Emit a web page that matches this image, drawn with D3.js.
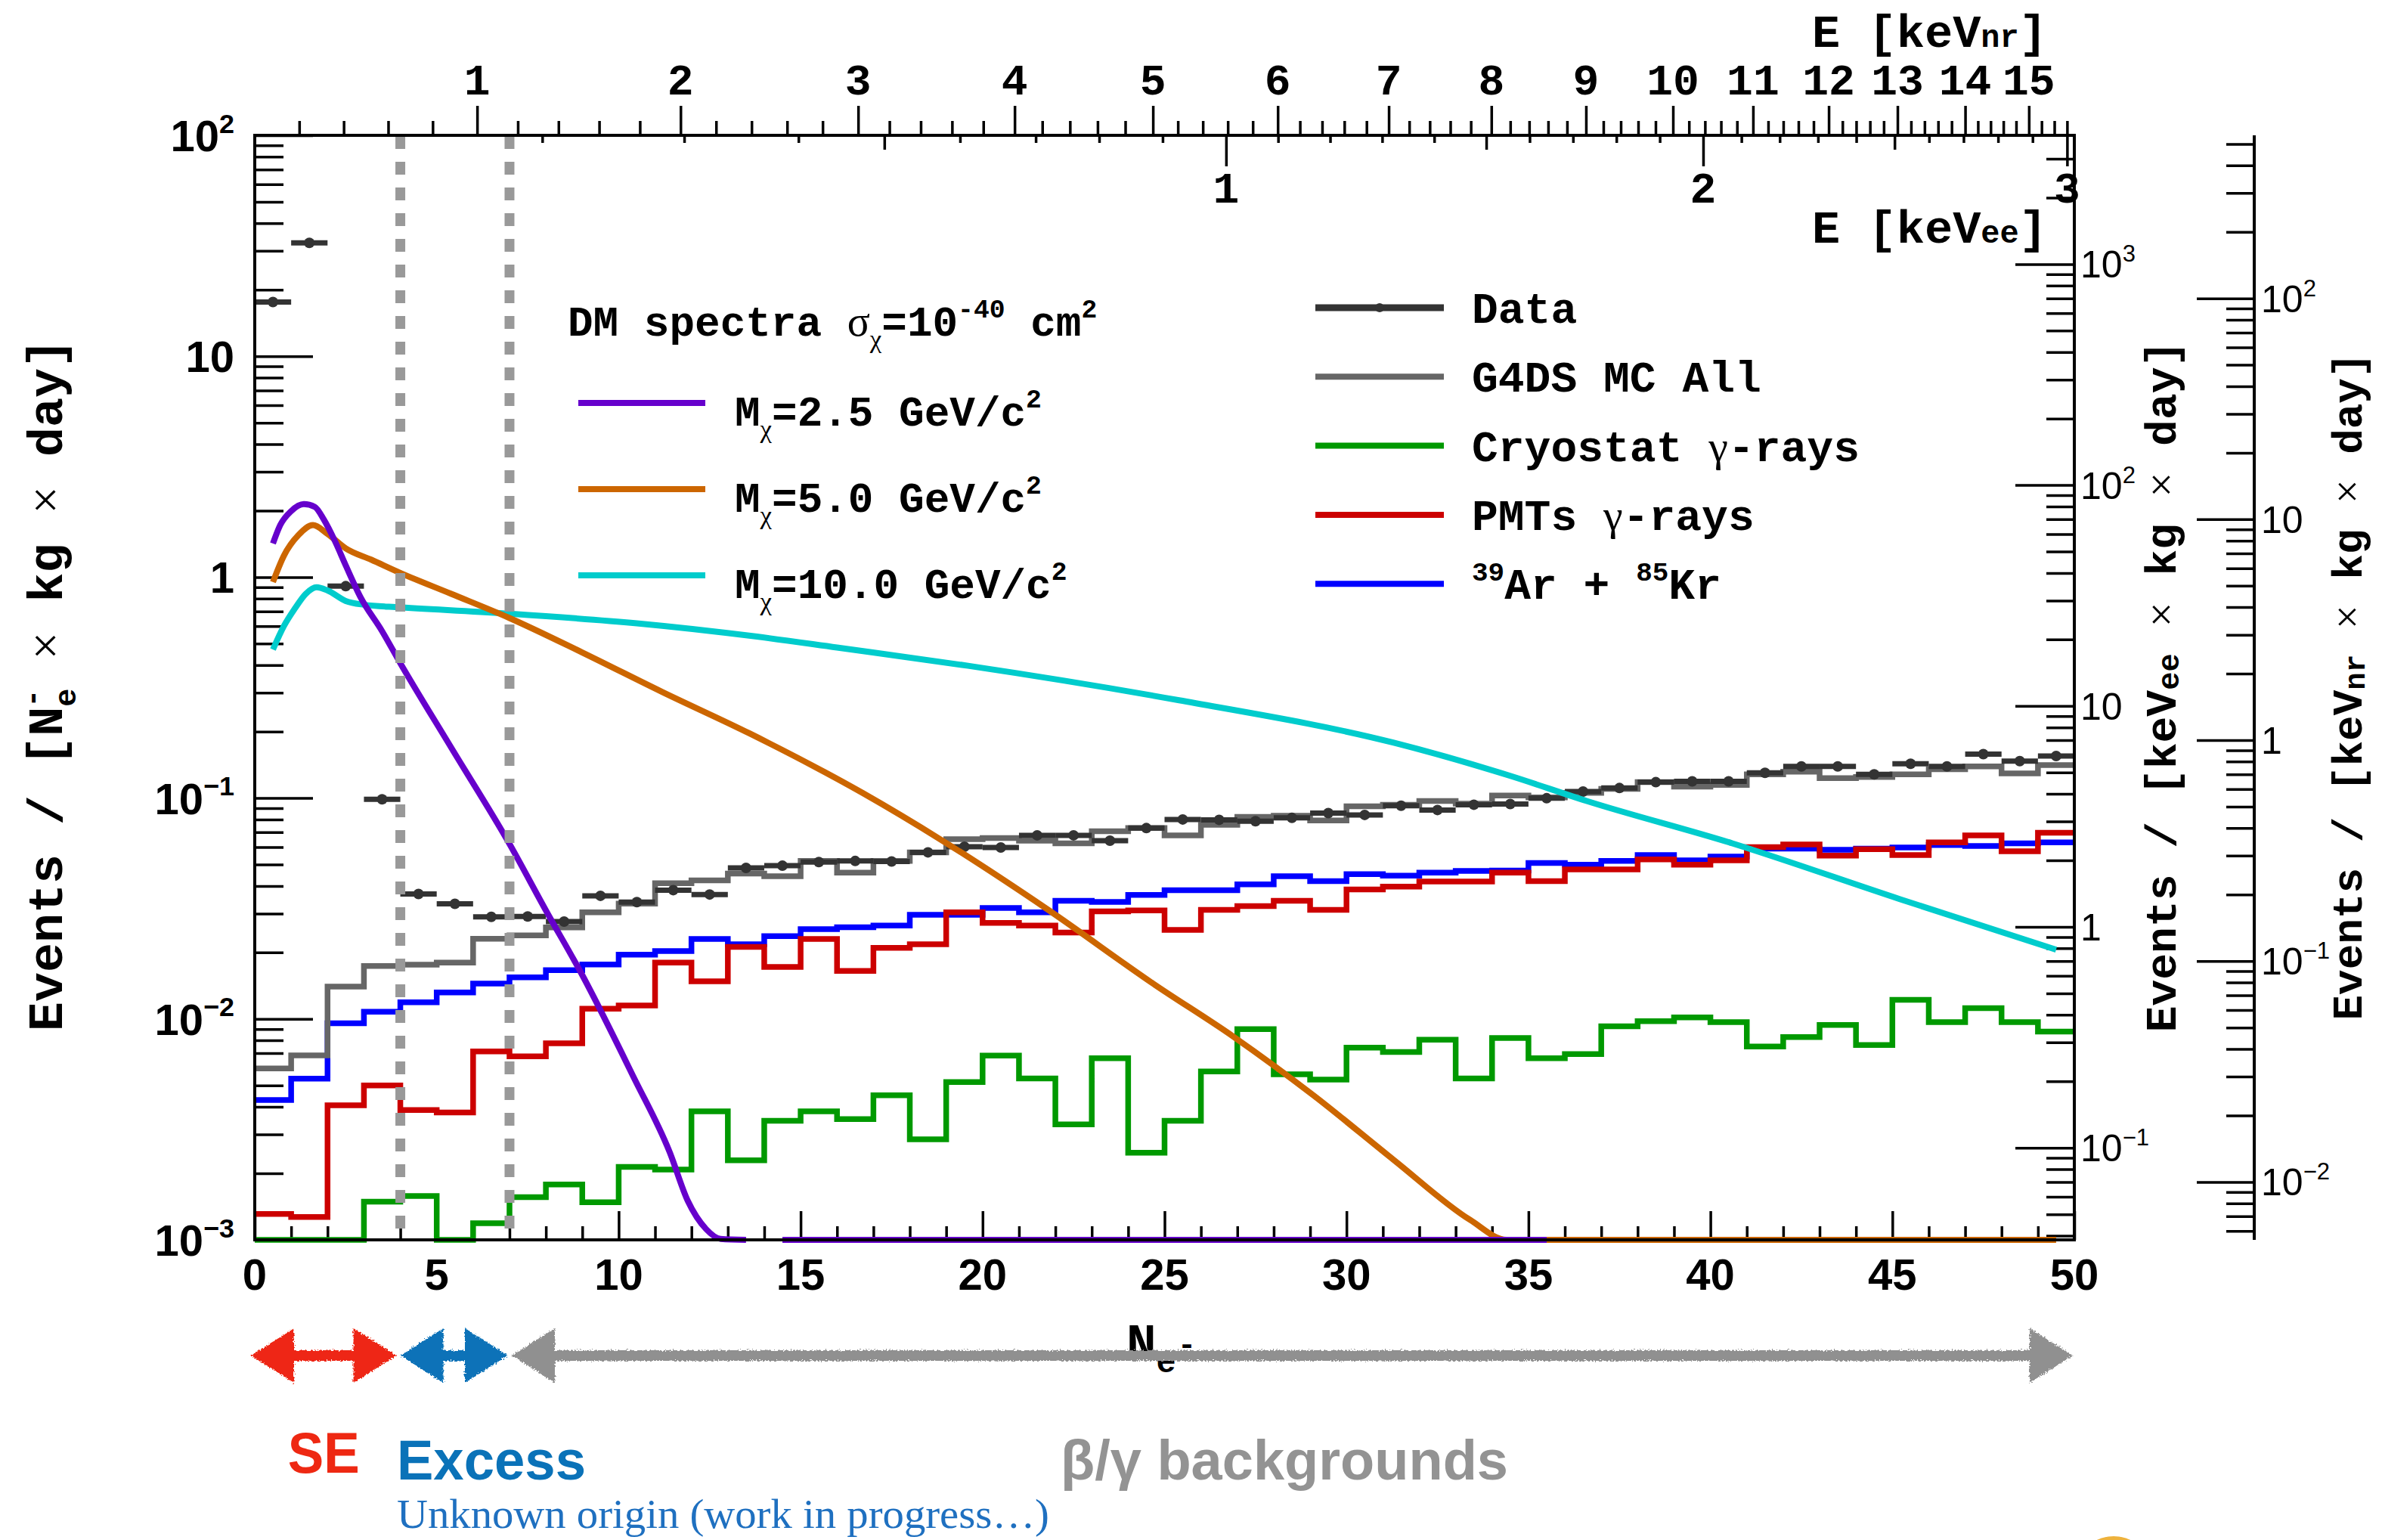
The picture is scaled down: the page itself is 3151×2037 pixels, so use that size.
<!DOCTYPE html>
<html>
<head>
<meta charset="utf-8">
<script src="https://cdn.jsdelivr.net/npm/d3@7"></script>
<style>
html, body { margin: 0; padding: 0; background: #fff; }
svg { display: block; }
</style>
</head>
<body>
<svg id="chart" width="3151" height="2037"></svg>
<script>
// ---- data (bins of 1 N_e-, from 0 to 50) ----
const nBins = 50;
const dataVals = [17.6, 32.6, 0.91, 0.0987, 0.0368, 0.0332, 0.0290, 0.0291, 0.0276, 0.0361,
  0.0338, 0.0383, 0.0366, 0.0483, 0.0494, 0.0513, 0.0519, 0.0516, 0.0568, 0.0602,
  0.0597, 0.0678, 0.0678, 0.0641, 0.0731, 0.080, 0.0797, 0.0785, 0.0813, 0.0855,
  0.0839, 0.0923, 0.0883, 0.0933, 0.094, 0.0998, 0.107, 0.111, 0.118, 0.119,
  0.119, 0.130, 0.139, 0.139, 0.128, 0.143, 0.139, 0.158, 0.147, 0.155];
const mcAll = [0.00597, 0.00684, 0.0140, 0.01738, 0.01762, 0.01799, 0.02307, 0.0239, 0.02596, 0.0304,
  0.0333, 0.0412, 0.0424, 0.0455, 0.0443, 0.0519, 0.0460, 0.0519, 0.0568, 0.0652,
  0.0659, 0.0641, 0.0624, 0.0708, 0.0731, 0.0678, 0.0757, 0.0822, 0.0832, 0.0791,
  0.0918, 0.0933, 0.097, 0.0944, 0.1026, 0.1007, 0.1055, 0.110, 0.118, 0.1127,
  0.1146, 0.128, 0.1315, 0.123, 0.1245, 0.128, 0.135, 0.139, 0.1294, 0.141];
const cryostat = [0, 0, 0, 0.00149, 0.00158, 0, 0.00119, 0.00156, 0.00178, 0.00148,
  0.00214, 0.00208, 0.00382, 0.00229, 0.00346, 0.00382, 0.00352, 0.00451, 0.00285, 0.00518,
  0.00683, 0.00538, 0.00333, 0.00664, 0.00248, 0.00346, 0.00578, 0.0090, 0.00562, 0.00532,
  0.00741, 0.00709, 0.00806, 0.00538, 0.0082, 0.00664, 0.00694, 0.00926, 0.00977, 0.01016,
  0.00967, 0.0075, 0.00828, 0.0094, 0.00762, 0.0122, 0.00967, 0.0112, 0.00967, 0.00876];
const pmts = [0.00131, 0.00127, 0.00407, 0.0050, 0.00387, 0.00377, 0.00713, 0.00677, 0.00776, 0.01112,
  0.0115, 0.0180, 0.0148, 0.0212, 0.0172, 0.0230, 0.0165, 0.0210, 0.0218, 0.0304,
  0.0272, 0.0265, 0.0246, 0.0307, 0.0310, 0.0253, 0.0312, 0.0324, 0.0343, 0.0312,
  0.0386, 0.0397, 0.0419, 0.0419, 0.0460, 0.0421, 0.0475, 0.0475, 0.0528, 0.0499,
  0.0522, 0.060, 0.0617, 0.0549, 0.0587, 0.0552, 0.0630, 0.0678, 0.0574, 0.0696];
const arKr = [0.0043, 0.00537, 0.00957, 0.01078, 0.0119, 0.01318, 0.01445, 0.01544, 0.01663, 0.01766,
  0.01956, 0.0203, 0.0230, 0.0218, 0.0237, 0.0255, 0.0260, 0.0265, 0.0296, 0.0296,
  0.0318, 0.0304, 0.0343, 0.0339, 0.0364, 0.0383, 0.0383, 0.0407, 0.0443, 0.0421,
  0.0452, 0.0445, 0.0460, 0.0468, 0.0470, 0.0508, 0.0499, 0.0519, 0.0552, 0.0522,
  0.0543, 0.0590, 0.0590, 0.0583, 0.0590, 0.0597, 0.0613, 0.0607, 0.0624, 0.0630];

// DM spectra (null = gap, 0 = below the axis minimum)
const dm25Ne  = [0.5, 0.7, 1.0, 1.35, 1.65, 1.9, 2.2, 2.5, 2.9, 3.5, 4.0, 5.4, 7.0, 8.0, 9.0, 10.4, 11.4, 11.9, 12.4, 12.8, 13.5, 14.0, 14.5, 35.5];
const dm25Val = [1.42, 1.72, 1.99, 2.14, 2.08, 1.82, 1.46, 1.13, 0.815, 0.569, 0.408, 0.169, 0.062, 0.031, 0.0158, 0.0055, 0.0025, 0.0015, 0.00112, 0.00101, 0.001, null, 0, 0];
const dm50Ne  = [0.5, 0.8, 1.2, 1.6, 2.0, 2.5, 3.2, 4.0, 5.4, 7.0, 9.0, 11.2, 13.6, 16.7, 18.9, 21.8, 24.7, 26.9, 29.1, 31.3, 33.4, 34.4, 49.5];
const dm50Val = [0.95, 1.25, 1.55, 1.72, 1.57, 1.35, 1.2, 1.045, 0.84, 0.653, 0.456, 0.302, 0.196, 0.1055, 0.0641, 0.0312, 0.0144, 0.0083, 0.0045, 0.0023, 0.00123, 0.001, 0];
const dm100Ne  = [0.5, 0.8, 1.1, 1.4, 1.7, 2.0, 2.5, 3.0, 4.0, 7.0, 10.5, 13.8, 16.0, 19.6, 25.4, 31.3, 34.5, 36.6, 40.6, 45.2, 49.5];
const dm100Val = [0.47, 0.6, 0.72, 0.84, 0.9, 0.87, 0.78, 0.75, 0.73, 0.683, 0.618, 0.538, 0.48, 0.397, 0.277, 0.178, 0.126, 0.097, 0.0624, 0.0349, 0.0206];

// secondary energy axes (calibration of energy to N_e-)
const keVnrE  = [0, 1, 2, 3, 4, 5, 6, 7, 8, 9, 10, 11, 12, 13, 14, 15];
const keVnrNe = [0, 6.11, 11.70, 16.58, 20.88, 24.68, 28.11, 31.16, 33.98, 36.58, 38.97, 41.17, 43.25, 45.14, 47.0, 48.75];
const keVeeE  = [0, 0.1, 0.2, 0.3, 0.4, 0.5, 0.7, 1.0, 1.5, 2.0, 2.5, 3.0];
const keVeeNe = [0, 3.97, 7.9, 11.8, 14.94, 17.3, 21.46, 26.69, 33.84, 39.8, 45.06, 49.8];
const keVeeFactor = 38.3;   // per N_e- -> per keVee
const keVnrFactor = 5.47;   // per N_e- -> per keVnr

// analysis regions in N_e-
const regionEdges = [0, 4, 7, 50];

// ---- layout ----
const plot = { left: 337, right: 2744, top: 179, bottom: 1640 };
const axis3X = 2982;
const yMin = 1e-3;
const mono = "'Liberation Mono','DejaVu Sans Mono','Courier New',monospace";
const sans = "'Liberation Sans',Arial,Helvetica,sans-serif";
const serif = "'Liberation Serif','Times New Roman',serif";

const svg = d3.select("#chart");
const x = d3.scaleLinear().domain([0, nBins]).range([plot.left, plot.right]);
const y = d3.scaleLog().domain([1e-3, 1e2]).range([plot.bottom, plot.top]);
const yEe = d3.scaleLog().domain([1e-3 * keVeeFactor, 1e2 * keVeeFactor]).range([plot.bottom, plot.top]);
const yNr = d3.scaleLog().domain([1e-3 * keVnrFactor, 1e2 * keVnrFactor]).range([plot.bottom, plot.top]);
const nrToNe = d3.scaleLinear().domain(keVnrE).range(keVnrNe);
const eeToNe = d3.scaleLinear().domain(keVeeE).range(keVeeNe);

const defs = svg.append("defs");
const filt = defs.append("filter").attr("id", "rough")
  .attr("x", "-5%").attr("y", "-60%").attr("width", "110%").attr("height", "220%");
filt.append("feTurbulence").attr("type", "fractalNoise").attr("baseFrequency", 0.5)
  .attr("numOctaves", 2).attr("seed", 4).attr("result", "noise");
filt.append("feDisplacementMap").attr("in", "SourceGraphic").attr("in2", "noise")
  .attr("scale", 7).attr("xChannelSelector", "R").attr("yChannelSelector", "G");

// rich text with sub/superscripts
function richText(sel, parts, size) {
  let shift = 0;
  parts.forEach(p => {
    const target = p.sup ? (p.rise !== undefined ? -p.rise : -size * 0.42)
      : p.sub ? (p.drop !== undefined ? p.drop : size * 0.28) : 0;
    const ts = sel.append("tspan").text(p.t)
      .attr("dy", target - shift)
      .attr("font-size", (p.sup || p.sub) ? size * (p.scale || 0.62) : size);
    if (p.dx) ts.attr("dx", p.dx);
    if (p.serif) ts.attr("font-family", serif).attr("font-weight", "normal");
    shift = target;
  });
}

function powLabel(v) {
  const e = Math.round(Math.log10(v));
  if (e === 0) return [{ t: "1" }];
  if (e === 1) return [{ t: "10" }];
  return [{ t: "10" }, { t: (e < 0 ? "\u2212" : "") + Math.abs(e), sup: true }];
}
const isMajor = v => Math.abs(Math.log10(v) - Math.round(Math.log10(v))) < 1e-6;

function styleAxis(g, w) {
  g.select(".domain").remove();
  g.selectAll(".tick line").attr("stroke", "#000").attr("stroke-width", w);
  g.selectAll(".tick text").remove();
}

// ---- left axis ----
const yt = y.ticks();
svg.append("g").attr("transform", `translate(${plot.left},0)`)
  .call(d3.axisLeft(y).tickValues(yt.filter(v => !isMajor(v))).tickSize(-38).tickSizeOuter(0))
  .call(g => styleAxis(g, 3.5));
svg.append("g").attr("transform", `translate(${plot.left},0)`)
  .call(d3.axisLeft(y).tickValues(yt.filter(isMajor)).tickSize(-77).tickSizeOuter(0))
  .call(g => styleAxis(g, 3.5));
yt.filter(isMajor).forEach(v => {
  const t = svg.append("text").attr("x", 310).attr("y", y(v) + 21)
    .attr("text-anchor", "end").attr("font-family", sans).attr("font-weight", "bold");
  richText(t, powLabel(v), 58);
});

// ---- bottom axis ----
const xt = d3.range(0, nBins + 1);
svg.append("g").attr("transform", `translate(0,${plot.bottom})`)
  .call(d3.axisBottom(x).tickValues(xt.filter(v => v % 5 !== 0)).tickSize(-18).tickSizeOuter(0))
  .call(g => styleAxis(g, 3.5));
svg.append("g").attr("transform", `translate(0,${plot.bottom})`)
  .call(d3.axisBottom(x).tickValues(xt.filter(v => v % 5 === 0)).tickSize(-38).tickSizeOuter(0))
  .call(g => styleAxis(g, 3.5));
xt.filter(v => v % 5 === 0).forEach(v => {
  svg.append("text").attr("x", x(v)).attr("y", 1706).attr("text-anchor", "middle")
    .attr("font-family", sans).attr("font-weight", "bold").attr("font-size", 58).text(v);
});

// ---- top axis: keVnr (ticks up) ----
const nrMinor = d3.range(1, 79).map(k => k / 5)
  .filter(e => Math.abs(e - Math.round(e)) > 1e-6 && nrToNe(e) <= nBins);
const nrMajor = keVnrE.filter(e => e > 0);
svg.append("g").attr("transform", `translate(0,${plot.top})`)
  .call(d3.axisTop(x).tickValues(nrMinor.map(nrToNe)).tickSize(19).tickSizeOuter(0))
  .call(g => styleAxis(g, 3.5));
svg.append("g").attr("transform", `translate(0,${plot.top})`)
  .call(d3.axisTop(x).tickValues(nrMajor.map(nrToNe)).tickSize(39).tickSizeOuter(0))
  .call(g => styleAxis(g, 3.5));
nrMajor.forEach(e => {
  svg.append("text").attr("x", x(nrToNe(e))).attr("y", 125).attr("text-anchor", "middle")
    .attr("font-family", mono).attr("font-weight", "bold").attr("font-size", 58).text(e);
});
const tNr = svg.append("text").attr("x", 2708).attr("y", 62).attr("text-anchor", "end")
  .attr("font-family", mono).attr("font-weight", "bold").attr("font-size", 62);
tNr.append("tspan").text("E [keV");
tNr.append("tspan").text("nr").attr("font-size", 42);
tNr.append("tspan").text("]");

// ---- top axis: keVee (ticks down) ----
const eeAll = d3.range(1, 31).map(k => k / 10);
const eeMajor = eeAll.filter(e => Math.abs(e - Math.round(e)) < 1e-6);
const eeMid = eeAll.filter(e => Math.abs(e * 2 - Math.round(e * 2)) < 1e-6 && !eeMajor.includes(e) && e > 0.45);
const eeMinor = eeAll.filter(e => !eeMajor.includes(e) && !eeMid.includes(e));
[[eeMinor, 10], [eeMid, 19], [eeMajor, 41]].forEach(([vals, len]) => {
  svg.append("g").attr("transform", `translate(0,${plot.top})`)
    .call(d3.axisTop(x).tickValues(vals.map(eeToNe)).tickSize(-len).tickSizeOuter(0))
    .call(g => styleAxis(g, 3.5));
});
eeMajor.forEach(e => {
  svg.append("text").attr("x", x(eeToNe(e))).attr("y", 268).attr("text-anchor", "middle")
    .attr("font-family", mono).attr("font-weight", "bold").attr("font-size", 58).text(e);
});
const tEe = svg.append("text").attr("x", 2708).attr("y", 321).attr("text-anchor", "end")
  .attr("font-family", mono).attr("font-weight", "bold").attr("font-size", 62);
tEe.append("tspan").text("E [keV");
tEe.append("tspan").text("ee").attr("font-size", 42);
tEe.append("tspan").text("]");

// ---- right axes ----
function rightAxis(scale, xPos, majLen, minLen, labelX) {
  const t = scale.ticks();
  svg.append("g").attr("transform", `translate(${xPos},0)`)
    .call(d3.axisRight(scale).tickValues(t.filter(v => !isMajor(v))).tickSize(-minLen).tickSizeOuter(0))
    .call(g => styleAxis(g, 3.5));
  svg.append("g").attr("transform", `translate(${xPos},0)`)
    .call(d3.axisRight(scale).tickValues(t.filter(isMajor)).tickSize(-majLen).tickSizeOuter(0))
    .call(g => styleAxis(g, 3.5));
  t.filter(isMajor).forEach(v => {
    const tx = svg.append("text").attr("x", labelX).attr("y", scale(v) + 18)
      .attr("font-family", sans).attr("font-size", 50);
    richText(tx, powLabel(v), 50);
  });
}
rightAxis(yEe, plot.right, 78, 37, 2752);
rightAxis(yNr, axis3X, 76, 37, 2991);
svg.append("line").attr("x1", axis3X).attr("x2", axis3X).attr("y1", plot.top).attr("y2", plot.bottom)
  .attr("stroke", "#000").attr("stroke-width", 4);

// ---- axis titles ----
function vTitle(xPos, yPos, parts, size) {
  const t = svg.append("text").attr("transform", `translate(${xPos},${yPos}) rotate(-90)`)
    .attr("text-anchor", "middle").attr("font-family", mono).attr("font-weight", "bold");
  richText(t, parts, size);
}
vTitle(82, 906, [{ t: "Events / [N" }, { t: "e", sub: true }, { t: "-", sup: true, dx: -25 },
  { t: " ", }, { t: "\u00d7", serif: true }, { t: " kg " }, { t: "\u00d7", serif: true }, { t: " day]" }], 65);
vTitle(2878, 908, [{ t: "Events / [keV" }, { t: "ee", sub: true, drop: 4, scale: 0.7 }, { t: " " }, { t: "\u00d7", serif: true },
  { t: " kg " }, { t: "\u00d7", serif: true }, { t: " day]" }], 58);
vTitle(3124, 908, [{ t: "Events / [keV" }, { t: "nr", sub: true, drop: 4, scale: 0.7 }, { t: " " }, { t: "\u00d7", serif: true },
  { t: " kg " }, { t: "\u00d7", serif: true }, { t: " day]" }], 56);

const xTitle = svg.append("text").attr("x", 1490).attr("y", 1797)
  .attr("font-family", mono).attr("font-weight", "bold");
richText(xTitle, [{ t: "N" }, { t: "e", sub: true, scale: 0.66 }, { t: "-", sup: true, rise: 6, dx: 2 }], 66);

// ---- histograms ----
const stepLine = d3.line().x(d => x(d[0])).y(d => y(Math.max(d[1], yMin))).curve(d3.curveStepAfter);
function histo(vals, color) {
  const pts = vals.map((v, i) => [i, v]);
  pts.push([nBins, vals[nBins - 1]]);
  svg.append("path").attr("d", stepLine(pts)).attr("fill", "none")
    .attr("stroke", color).attr("stroke-width", 7.5).attr("stroke-linejoin", "miter");
}
histo(cryostat, "#009900");
histo(arKr, "#0000ff");
histo(pmts, "#cc0000");
histo(mcAll, "#666666");

// data points
const gData = svg.append("g");
dataVals.forEach((v, i) => {
  gData.append("line").attr("x1", x(i)).attr("x2", x(i + 1)).attr("y1", y(v)).attr("y2", y(v))
    .attr("stroke", "#333").attr("stroke-width", 7);
  gData.append("circle").attr("cx", x(i + 0.5)).attr("cy", y(v)).attr("r", 7).attr("fill", "#333");
});

// DM curves
const smooth = d3.line().defined(d => d[1] !== null)
  .x(d => x(d[0])).y(d => y(Math.max(d[1], yMin))).curve(d3.curveMonotoneX);
function curve(ne, vals, color) {
  svg.append("path").attr("d", smooth(ne.map((n, i) => [n, vals[i]])))
    .attr("fill", "none").attr("stroke", color).attr("stroke-width", 8);
}
curve(dm100Ne, dm100Val, "#00cccc");
curve(dm50Ne, dm50Val, "#cc6600");
curve(dm25Ne, dm25Val, "#6600cc");

// region boundaries
regionEdges.slice(1, -1).forEach(v => {
  svg.append("line").attr("x1", x(v)).attr("x2", x(v)).attr("y1", plot.top + 1).attr("y2", plot.bottom)
    .attr("stroke", "#999").attr("stroke-width", 13).attr("stroke-dasharray", "17 17");
});

// frame
svg.append("rect").attr("x", plot.left).attr("y", plot.top)
  .attr("width", plot.right - plot.left).attr("height", plot.bottom - plot.top)
  .attr("fill", "none").attr("stroke", "#000").attr("stroke-width", 4);

// ---- legends ----
const dmLegend = [
  { m: "2.5", color: "#6600cc" },
  { m: "5.0", color: "#cc6600" },
  { m: "10.0", color: "#00cccc" }
];
const dmTitle = svg.append("text").attr("x", 751).attr("y", 444)
  .attr("font-family", mono).attr("font-weight", "bold");
richText(dmTitle, [{ t: "DM spectra " }, { t: "\u03c3", serif: true }, { t: "\u03c7", serif: true, sub: true },
  { t: "=10" }, { t: "-40", sup: true }, { t: " cm" }, { t: "2", sup: true }], 56);
dmLegend.forEach((d, i) => {
  const ly = 533 + i * 114;
  svg.append("line").attr("x1", 765).attr("x2", 933).attr("y1", ly).attr("y2", ly)
    .attr("stroke", d.color).attr("stroke-width", 8);
  const t = svg.append("text").attr("x", 972).attr("y", ly + 30)
    .attr("font-family", mono).attr("font-weight", "bold");
  richText(t, [{ t: "M" }, { t: "\u03c7", serif: true, sub: true }, { t: "=" + d.m + " GeV/c" }, { t: "2", sup: true }], 56);
});

const bgLegend = [
  { parts: [{ t: "Data" }], color: "#333333", marker: true },
  { parts: [{ t: "G4DS MC All" }], color: "#666666" },
  { parts: [{ t: "Cryostat " }, { t: "\u03b3", serif: true }, { t: "-rays" }], color: "#009900" },
  { parts: [{ t: "PMTs " }, { t: "\u03b3", serif: true }, { t: "-rays" }], color: "#cc0000" },
  { parts: [{ t: "39", sup: true }, { t: "Ar + " }, { t: "85", sup: true }, { t: "Kr" }], color: "#0000ff" }
];
bgLegend.forEach((d, i) => {
  const ly = 407 + i * 91.3;
  svg.append("line").attr("x1", 1740).attr("x2", 1910).attr("y1", ly).attr("y2", ly)
    .attr("stroke", d.color).attr("stroke-width", d.marker ? 9 : 8);
  if (d.marker) svg.append("circle").attr("cx", 1825).attr("cy", ly).attr("r", 6).attr("fill", d.color);
  const t = svg.append("text").attr("x", 1947).attr("y", ly + 20)
    .attr("font-family", mono).attr("font-weight", "bold");
  richText(t, d.parts, 58);
});

// ---- region arrows and labels ----
const regions = [
  { color: "#ee2812", pad: [-5, -5] },
  { color: "#0a72b8", pad: [0, -2] },
  { color: "#909090", pad: [3, -2] }
];
const cy = 1793, hl = 57, hh = 36, st = 7;
regions.forEach((r, i) => {
  const xa = x(regionEdges[i]) + r.pad[0], xb = x(regionEdges[i + 1]) + r.pad[1];
  const pts = [[xa, cy], [xa + hl, cy - hh], [xa + hl, cy - st], [xb - hl, cy - st], [xb - hl, cy - hh],
    [xb, cy], [xb - hl, cy + hh], [xb - hl, cy + st], [xa + hl, cy + st], [xa + hl, cy + hh]];
  svg.append("path").attr("d", d3.line()(pts) + "Z").attr("fill", r.color)
    .attr("filter", "url(#rough)");
});

svg.append("text").attr("x", x((regionEdges[0] + regionEdges[1]) / 2) - 5).attr("y", 1948)
  .attr("text-anchor", "middle").attr("font-family", sans).attr("font-weight", "bold")
  .attr("font-size", 76).attr("fill", "#ee2812").attr("textLength", 95).attr("lengthAdjust", "spacingAndGlyphs").text("SE");
svg.append("text").attr("x", 525).attr("y", 1957)
  .attr("font-family", sans).attr("font-weight", "bold")
  .attr("font-size", 74).attr("fill", "#0a72b8").attr("textLength", 250).attr("lengthAdjust", "spacingAndGlyphs").text("Excess");
svg.append("text").attr("x", 1403).attr("y", 1957)
  .attr("font-family", sans).attr("font-weight", "bold")
  .attr("font-size", 74).attr("fill", "#939393").attr("textLength", 592).attr("lengthAdjust", "spacingAndGlyphs").text("\u03b2/\u03b3 backgrounds");
svg.append("text").attr("x", 525).attr("y", 2021)
  .attr("font-family", serif).attr("font-size", 55).attr("fill", "#1f70c0")
  .attr("textLength", 863).attr("lengthAdjust", "spacingAndGlyphs").text("Unknown origin (work in progress\u2026)");

// corner of a logo at the bottom edge
svg.append("circle").attr("cx", 2796).attr("cy", 2084).attr("r", 52).attr("fill", "#eeb23c");
</script>
</body>
</html>
